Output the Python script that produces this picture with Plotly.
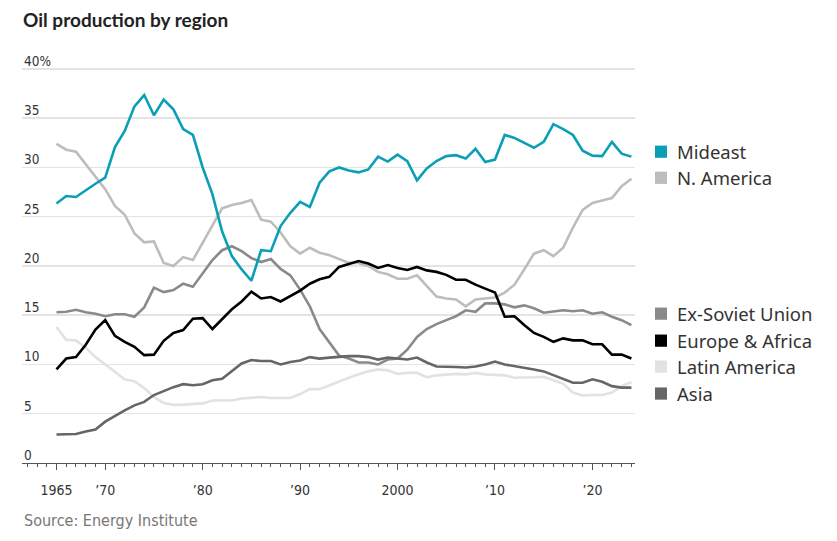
import plotly.graph_objects as go

years = list(range(1965, 2025))

mideast = [26.35, 27.1, 27.0, 27.7, 28.35, 28.96, 32.07, 33.7, 36.2, 37.35,
           35.3, 36.9, 35.9, 33.9, 33.3, 30.0, 27.3, 23.5, 21.0, 19.65,
           18.5, 21.6, 21.5, 24.05, 25.4, 26.5, 26.0, 28.45, 29.6, 30.0,
           29.7, 29.5, 29.8, 31.1, 30.6, 31.3, 30.65, 28.7, 29.9, 30.65,
           31.15, 31.25, 30.9, 31.9, 30.55, 30.8, 33.3, 33.0, 32.5, 32.0,
           32.6, 34.4, 33.9, 33.3, 31.7, 31.2, 31.15, 32.6, 31.4, 31.1]

n_america = [32.4, 31.8, 31.6, 30.3, 29.1, 27.8, 26.1, 25.2, 23.3, 22.4,
             22.5, 20.3, 20.0, 20.9, 20.6, 22.4, 24.2, 25.85, 26.2, 26.4,
             26.7, 24.7, 24.5, 23.4, 22.0, 21.25, 21.85, 21.35, 21.1, 20.7,
             20.3, 20.3, 20.0, 19.4, 19.15, 18.7, 18.7, 19.05, 18.0, 16.9,
             16.7, 16.6, 15.9, 16.6, 16.7, 16.8, 17.3, 18.1, 19.65, 21.25,
             21.6, 21.0, 21.85, 23.9, 25.7, 26.4, 26.65, 26.9, 28.1, 28.85]

ex_soviet = [15.3, 15.35, 15.55, 15.3, 15.15, 14.9, 15.1, 15.1, 14.85, 15.8,
             17.8, 17.35, 17.55, 18.2, 17.9, 19.3, 20.6, 21.6, 22.0, 21.5,
             20.8, 20.4, 20.7, 19.7, 19.05, 17.6, 15.9, 13.6, 12.2, 10.9,
             10.6, 10.2, 10.2, 10.0, 10.5, 10.6, 11.5, 12.8, 13.6, 14.1,
             14.5, 14.9, 15.5, 15.35, 16.2, 16.2, 16.1, 15.8, 16.0, 15.7,
             15.25, 15.4, 15.5, 15.4, 15.5, 15.15, 15.3, 14.85, 14.5, 14.0]

europe_africa = [9.5, 10.6, 10.75, 12.0, 13.55, 14.5, 12.9, 12.3, 11.8, 10.95,
                 11.0, 12.4, 13.2, 13.5, 14.65, 14.7, 13.6, 14.6, 15.6, 16.4,
                 17.4, 16.7, 16.85, 16.4, 16.95, 17.5, 18.2, 18.65, 18.9, 19.9,
                 20.2, 20.5, 20.25, 19.8, 20.1, 19.8, 19.6, 19.9, 19.55, 19.4,
                 19.1, 18.6, 18.6, 18.1, 17.7, 17.3, 14.85, 14.9, 14.0, 13.2,
                 12.8, 12.3, 12.65, 12.45, 12.45, 12.05, 12.05, 11.0, 11.0, 10.6]

latin_america = [13.8, 12.5, 12.45, 11.7, 10.75, 10.0, 9.3, 8.5, 8.3, 7.6,
                 6.7, 6.1, 5.9, 5.9, 6.0, 6.05, 6.35, 6.35, 6.35, 6.55,
                 6.6, 6.7, 6.6, 6.6, 6.6, 7.0, 7.5, 7.5, 7.9, 8.25,
                 8.65, 9.0, 9.3, 9.5, 9.4, 9.05, 9.15, 9.15, 8.7, 8.9,
                 9.0, 9.05, 9.0, 9.15, 9.0, 8.95, 8.9, 8.65, 8.65, 8.7,
                 8.75, 8.4, 8.05, 7.15, 6.85, 6.9, 6.9, 7.15, 7.8, 8.2]

asia = [2.9, 2.95, 2.95, 3.2, 3.4, 4.2, 4.8, 5.35, 5.85, 6.2,
        6.9, 7.3, 7.7, 8.0, 7.9, 8.0, 8.4, 8.55, 9.35, 10.1,
        10.45, 10.35, 10.35, 10.0, 10.25, 10.4, 10.75, 10.6, 10.7, 10.8,
        10.85, 10.85, 10.75, 10.5, 10.7, 10.6, 10.5, 10.7, 10.2, 9.8,
        9.8, 9.75, 9.7, 9.8, 10.0, 10.3, 10.0, 9.85, 9.7, 9.5,
        9.3, 8.9, 8.5, 8.15, 8.15, 8.5, 8.25, 7.8, 7.65, 7.65]

series_names = ["Mideast", "N. America", "Ex-Soviet Union", "Europe & Africa",
                "Latin America", "Asia"]
series_values = [mideast, n_america, ex_soviet, europe_africa, latin_america, asia]
colors = ["#0a9fb5", "#bdbdbd", "#8a8a8a", "#000000", "#e2e2e2", "#666666"]
# legend label vertical positions (in % units)
legend_y = [31.6, 28.95, 15.16, 12.42, 9.79, 7.05]

x_tickvals = [1965, 1970, 1980, 1990, 2000, 2010, 2020]
x_ticktext = ["1965", "\u201970", "\u201980", "\u201990", "2000", "\u201910", "\u201920"]
y_tickvals = [0, 5, 10, 15, 20, 25, 30, 35, 40]
y_ticktext = ["0", "5", "10", "15", "20", "25", "30", "35", "40%"]

W, H = 837, 541
L, R, T, B = 22, 202, 66, 77.5
PW = W - L - R
PH = H - T - B

fig = go.Figure()
# draw order: lighter lines first, teal on top
order = [4, 1, 2, 5, 3, 0]
for i in order:
    fig.add_trace(go.Scatter(
        x=years, y=series_values[i], mode="lines", name=series_names[i],
        line=dict(color=colors[i], width=2.6), hoverinfo="skip",
        cliponaxis=False))

label_font = "Liberation Sans Narrow, DejaVu Sans Condensed, Arial Narrow, sans-serif"
legend_font = "Noto Sans, Open Sans, sans-serif"

fig.update_layout(
    width=W, height=H,
    margin=dict(l=L, r=R, t=T, b=B, autoexpand=False),
    paper_bgcolor="white", plot_bgcolor="white",
    showlegend=False,
    title=dict(text="<b>Oil production by region</b>", x=23 / W, xanchor="left",
               xref="container", y=1 - 20 / H, yanchor="middle", pad=dict(l=0, t=0, b=0, r=0),
               font=dict(family="Lato, Noto Sans, sans-serif", size=19, color="#222")),
    xaxis=dict(range=[1961.46, 2024.37], tickvals=x_tickvals, ticktext=x_ticktext,
               ticks="outside", ticklen=6, tickwidth=1, tickcolor="#555",
               showline=True, linecolor="#555", linewidth=1.3,
               showgrid=False, zeroline=False, automargin=False,
               minor=dict(dtick=1, tick0=1965, ticks="outside", ticklen=3,
                          tickcolor="#555", tickwidth=1, showgrid=False),
               tickfont=dict(family=label_font, size=14, color="#333"),
               ticklabelstandoff=8, fixedrange=True),
    yaxis=dict(range=[0, 40.3], tickvals=y_tickvals, showticklabels=False,
               showgrid=True, automargin=False,
               gridcolor="#e4e4e4", gridwidth=1.5, zeroline=False, showline=False,
               fixedrange=True),
)

for v, t in zip(y_tickvals, y_ticktext):
    fig.add_annotation(text=t, xref="paper", yref="y", x=0, y=v,
                       xanchor="left", yanchor="bottom", yshift=-2, showarrow=False,
                       font=dict(family=label_font, size=13.5, color="#333"))

for name, col, ly in zip(series_names, colors, legend_y):
    fig.add_shape(type="rect", xref="paper", yref="y",
                  x0=(655 - L) / PW, x1=(667 - L) / PW,
                  y0=ly - 0.62, y1=ly + 0.62,
                  fillcolor=col, line=dict(width=0))
    fig.add_annotation(text=name, xref="paper", yref="y",
                       x=(675 - L) / PW, y=ly, xanchor="left", yanchor="middle",
                       showarrow=False,
                       font=dict(family=legend_font, size=18.5, color="#333"))

fig.add_annotation(text="Source: Energy Institute", xref="paper", yref="paper",
                   x=(22 - L) / PW, y=-(521 - (H - B)) / PH,
                   xanchor="left", yanchor="middle", showarrow=False,
                   font=dict(family=label_font, size=16, color="#777"))

fig.write_html("out.html", config={"displayModeBar": False, "staticPlot": True},
               post_script="document.body.style.margin='0';document.body.style.padding='0';")
